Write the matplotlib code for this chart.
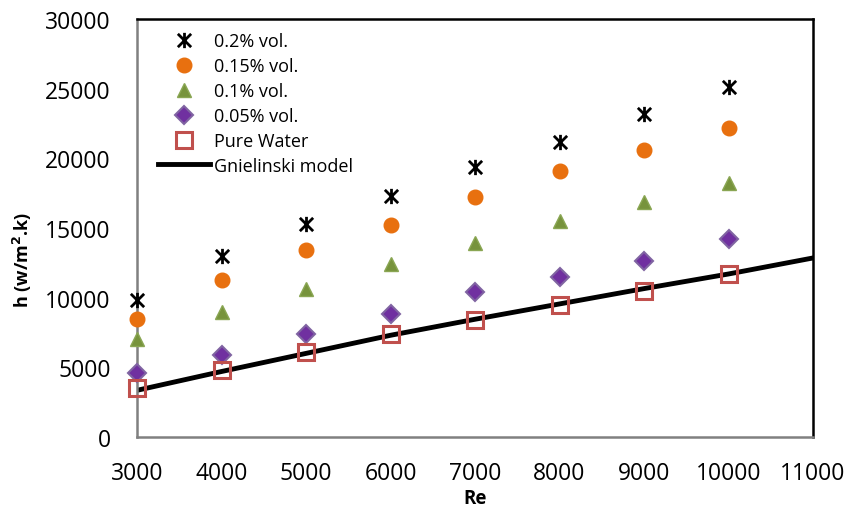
import numpy as np
import matplotlib.pyplot as plt
from matplotlib.path import Path

plt.rcParams['font.family'] = ['Open Sans', 'DejaVu Sans']

re = [3000, 4000, 5000, 6000, 7000, 8000, 9000, 10000]
h_02 = [9800, 13000, 15300, 17300, 19400, 21200, 23200, 25100]
h_015 = [8500, 11300, 13400, 15200, 17200, 19100, 20600, 22200]
h_01 = [7000, 9000, 10600, 12400, 13900, 15500, 16900, 18200]
h_005 = [4600, 5900, 7400, 8800, 10400, 11500, 12600, 14200]
h_water = [3500, 4800, 6100, 7400, 8400, 9500, 10500, 11700]

re_model = [3000, 4000, 5000, 6000, 7000, 8000, 9000, 10000, 11000]
h_model = [3350, 4700, 6000, 7300, 8450, 9550, 10650, 11700, 12850]

# X with a vertical bar through it
star = Path([(-1, -1), (1, 1), (-1, 1), (1, -1), (0, -1.15), (0, 1.15)],
            [Path.MOVETO, Path.LINETO, Path.MOVETO, Path.LINETO,
             Path.MOVETO, Path.LINETO])

fig = plt.figure(figsize=(8.47, 5.10), dpi=100)
ax = fig.add_axes([137 / 847, 1 - 438 / 510, 676 / 847, 418 / 510])

ax.plot(re, h_02, linestyle='none', marker=star, markersize=11,
        markeredgecolor='black', markeredgewidth=2, label='0.2% vol.',
        zorder=3, clip_on=False)
ax.plot(re, h_015, linestyle='none', marker='o', markersize=10.5,
        color='#E8700F', label='0.15% vol.', zorder=3, clip_on=False)
ax.plot(re, h_01, linestyle='none', marker='^', markersize=10.5,
        color='#77933C', markeredgecolor='#8AA653', label='0.1% vol.',
        zorder=3, clip_on=False)
ax.plot(re, h_005, linestyle='none', marker='D', markersize=9.5,
        color='#7030A0', markeredgecolor='#8064A2', markeredgewidth=1.5,
        label='0.05% vol.', zorder=3, clip_on=False)
ax.plot(re, h_water, linestyle='none', marker='s', markersize=11,
        markerfacecolor='none', markeredgecolor='#C0504D', markeredgewidth=2.2,
        label='Pure Water', zorder=4, clip_on=False)
ax.plot(re_model, h_model, color='black', linewidth=3.5,
        label='Gnielinski model', zorder=2)

ax.set_xlim(3000, 11000)
ax.set_ylim(0, 30000)
ax.set_xticks(np.arange(3000, 11001, 1000))
ax.set_yticks(np.arange(0, 30001, 5000))
ax.tick_params(length=0, labelsize=16.5)
ax.tick_params(axis='y', pad=19)
ax.tick_params(axis='x', pad=17)

for side in ['top', 'right']:
    ax.spines[side].set_color('black')
    ax.spines[side].set_linewidth(1.8)
for side in ['left', 'bottom']:
    ax.spines[side].set_color('#808080')
    ax.spines[side].set_linewidth(1.8)

ax.set_xlabel('Re', fontsize=13.5, fontweight='bold')
ax.set_ylabel('h (w/m$^\\mathbf{2}$.k)', fontsize=13, fontweight='bold')
ax.xaxis.set_label_coords(0.5, -0.122)
ax.yaxis.set_label_coords(-0.152, 0.426)

ax.legend(loc='upper left', bbox_to_anchor=(0.02, 0.985), frameon=False,
          fontsize=13, numpoints=1, handlelength=2.9, handletextpad=0.2,
          labelspacing=0.38, borderaxespad=0)

fig.savefig('out.png', dpi=100)
